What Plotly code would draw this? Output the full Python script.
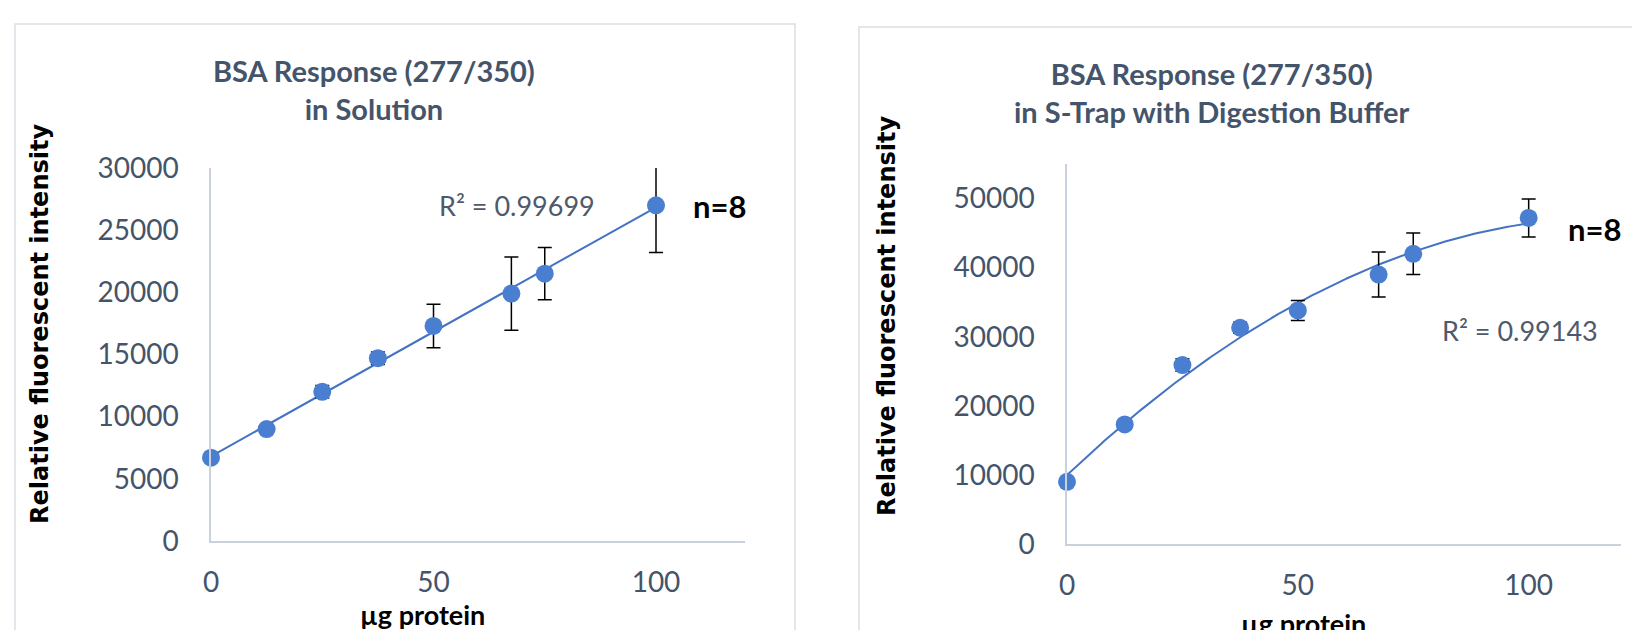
import numpy as np
import plotly.graph_objects as go

# ---------------- data ----------------
protein_ug = [0, 12.5, 25, 37.5, 50, 67.5, 75, 100]

solution_rfu = [6700, 9000, 12000, 14700, 17300, 19900, 21500, 27000]
solution_err = [200, 150, 500, 500, 1750, 2950, 2100, 3800]

strap_rfu = [9000, 17300, 25900, 31300, 33800, 39000, 42000, 47200]
strap_err = [300, 700, 900, 800, 1450, 3250, 3000, 2750]

x_ticks = [0, 50, 100]
left_yticks = [0, 5000, 10000, 15000, 20000, 25000, 30000]
right_yticks = [0, 10000, 20000, 30000, 40000, 50000]

title_left = "<b>BSA Response (277/350)<br>in Solution</b>"
title_right = "<b>BSA Response (277/350)<br>in S-Trap with Digestion Buffer</b>"
r2_left = "R² = 0.99699"
r2_right = "R² = 0.99143"

# ---------------- style ----------------
W, H = 1640, 630
OFF = 8  # page body margin offset of the figure
BLUE = "#4A7ED0"
LINE = "#4472C4"
SLATE = "#44546A"
AXIS = "#C9D1DE"
CAL = "Lato, 'Open Sans', sans-serif"
VERD = "'DejaVu Sans', Verdana, sans-serif"


def px(x):
    return (x - OFF) / W


def py(y):
    return 1 - (y - OFF) / H


# trendlines fitted from the data
xfit = np.linspace(min(protein_ug), max(protein_ug), 200)
lin = np.polyfit(protein_ug, solution_rfu, 1)
quad = np.polyfit(protein_ug, strap_rfu, 2)

fig = go.Figure()

fig.add_trace(go.Scatter(x=xfit, y=np.polyval(lin, xfit), mode="lines",
                         line=dict(color=LINE, width=2), xaxis="x", yaxis="y",
                         hoverinfo="skip", showlegend=False))
fig.add_trace(go.Scatter(x=protein_ug, y=solution_rfu, mode="markers",
                         marker=dict(color=BLUE, size=18),
                         error_y=dict(type="data", array=solution_err, visible=True,
                                      color="black", thickness=1.5, width=7),
                         cliponaxis=False, xaxis="x", yaxis="y", showlegend=False))

fig.add_trace(go.Scatter(x=xfit, y=np.polyval(quad, xfit), mode="lines",
                         line=dict(color=LINE, width=2), xaxis="x2", yaxis="y2",
                         hoverinfo="skip", showlegend=False))
fig.add_trace(go.Scatter(x=protein_ug, y=strap_rfu, mode="markers",
                         marker=dict(color=BLUE, size=18),
                         error_y=dict(type="data", array=strap_err, visible=True,
                                      color="black", thickness=1.5, width=7),
                         cliponaxis=False, xaxis="x2", yaxis="y2", showlegend=False))

tickfont = dict(family=CAL, size=28, color=SLATE)

xcommon = dict(range=[0, 120], tickvals=x_ticks, showgrid=False, zeroline=False,
               showline=True, linecolor=AXIS, linewidth=1.5, ticks="",
               tickfont=tickfont, ticklabelstandoff=16, fixedrange=True)
ycommon = dict(showgrid=False, zeroline=False, showline=True, linecolor=AXIS,
               linewidth=1.5, ticks="", tickfont=tickfont, ticklabelstandoff=25,
               tickformat="d", fixedrange=True)

fig.update_layout(
    width=W, height=H,
    margin=dict(l=0, r=0, t=0, b=0, pad=0, autoexpand=False),
    paper_bgcolor="white", plot_bgcolor="white",
    xaxis=dict(domain=[px(211), px(745)], anchor="y", **xcommon),
    yaxis=dict(domain=[py(541), py(168)], anchor="x", range=[0, 30000],
               tickvals=left_yticks, **ycommon),
    xaxis2=dict(domain=[px(1067), px(1621)], anchor="y2", **xcommon),
    yaxis2=dict(domain=[py(544), py(164)], anchor="x2", range=[0, 55000],
                tickvals=right_yticks, **ycommon),
    showlegend=False,
)

# panel borders
fig.add_shape(type="rect", xref="paper", yref="paper",
              x0=px(15), x1=px(795), y0=-0.2, y1=py(24),
              line=dict(color="#DADFE6", width=1.5), layer="below")
fig.add_shape(type="rect", xref="paper", yref="paper",
              x0=px(859), x1=1.2, y0=-0.2, y1=py(27),
              line=dict(color="#DADFE6", width=1.5), layer="below")

ann = []
# titles
ann.append(dict(text=title_left, x=px(374), y=py(90), xref="paper", yref="paper",
                showarrow=False, font=dict(family=CAL, size=29, color=SLATE),
                xanchor="center", yanchor="middle", align="center"))
ann.append(dict(text=title_right, x=px(1212), y=py(93), xref="paper", yref="paper",
                showarrow=False, font=dict(family=CAL, size=29, color=SLATE),
                xanchor="center", yanchor="middle", align="center"))
# y titles
for xc, yc in ((40, 324), (887, 316)):
    ann.append(dict(text="<b>Relative fluorescent intensity</b>", x=px(xc), y=py(yc),
                    xref="paper", yref="paper", showarrow=False, textangle=-90,
                    font=dict(family=VERD, size=24, color="black"),
                    xanchor="center", yanchor="middle"))
# x titles (partly cut off at the bottom edge, as in the source)
ann.append(dict(text="<b>µg protein</b>", x=px(422), y=py(596), xref="paper", yref="paper",
                showarrow=False, font=dict(family=CAL, size=27, color="black"),
                xanchor="center", yanchor="top"))
ann.append(dict(text="<b>µg protein</b>", x=px(1303), y=py(605), xref="paper", yref="paper",
                showarrow=False, font=dict(family=CAL, size=27, color="black"),
                xanchor="center", yanchor="top"))
# n=8
ann.append(dict(text="<b>n=8</b>", x=px(719), y=py(206), xref="paper", yref="paper",
                showarrow=False, font=dict(family=CAL, size=31, color="black"),
                xanchor="center", yanchor="middle"))
ann.append(dict(text="<b>n=8</b>", x=px(1594), y=py(229), xref="paper", yref="paper",
                showarrow=False, font=dict(family=CAL, size=31, color="black"),
                xanchor="center", yanchor="middle"))
# R^2
ann.append(dict(text=r2_left, x=px(517), y=py(205), xref="paper", yref="paper",
                showarrow=False, font=dict(family=CAL, size=27, color="#4E5A6B"),
                xanchor="center", yanchor="middle"))
ann.append(dict(text=r2_right, x=px(1520), y=py(330), xref="paper", yref="paper",
                showarrow=False, font=dict(family=CAL, size=27, color="#4E5A6B"),
                xanchor="center", yanchor="middle"))

fig.update_layout(annotations=ann)

fig.write_html("out.html")
